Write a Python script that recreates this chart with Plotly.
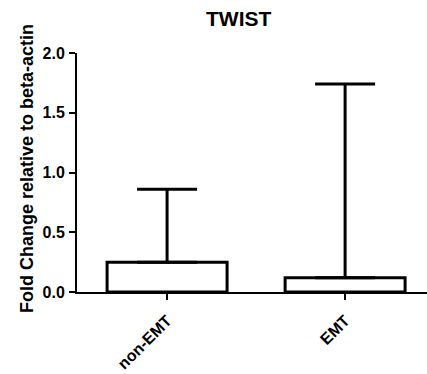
import plotly.graph_objects as go

categories = ["non-EMT", "EMT"]
means = [0.25, 0.12]
upper = [0.86, 1.74]
tick_vals = [0.0, 0.5, 1.0, 1.5, 2.0]
tick_text = ["0.0", "0.5", "1.0", "1.5", "2.0"]

err_plus = [u - m for u, m in zip(upper, means)]

FONT = "Arial, Liberation Sans, sans-serif"

fig = go.Figure()
fig.add_trace(go.Bar(
    x=[0, 1], y=means, width=0.674,
    marker=dict(color="white", line=dict(color="black", width=3)),
    error_y=dict(type="data", symmetric=False, array=err_plus,
                 arrayminus=[0, 0], color="black", thickness=3, width=30),
    showlegend=False,
))

fig.update_layout(
    width=427, height=374,
    margin=dict(l=77, r=0, t=53, b=82),
    paper_bgcolor="white", plot_bgcolor="white",
    font=dict(family=FONT, color="black"),
    xaxis=dict(range=[-0.506, 1.46], tickmode="array", tickvals=[0, 1],
               ticktext=categories, tickangle=-45,
               tickfont=dict(size=16, family=FONT, weight="bold"),
               ticklabelstandoff=5,
               showline=True, linecolor="black", linewidth=2,
               ticks="outside", ticklen=6, tickwidth=2, tickcolor="black",
               showgrid=False, zeroline=False, fixedrange=True),
    yaxis=dict(range=[0, 2.0], tickmode="array", tickvals=tick_vals,
               ticktext=tick_text,
               tickfont=dict(size=16, family=FONT, weight="bold"),
               ticklabelstandoff=1,
               showline=True, linecolor="black", linewidth=2,
               ticks="outside", ticklen=6, tickwidth=2, tickcolor="black",
               showgrid=False, zeroline=False, fixedrange=True),
    annotations=[
        dict(text="<b>TWIST</b>", xref="paper", yref="paper",
             x=(238 - 77) / 350, y=(292 - 19) / 239, xanchor="center",
             yanchor="middle", showarrow=False,
             font=dict(size=21, family=FONT, color="black")),
        dict(text="<b>Fold Change relative to beta-actin</b>", xref="paper",
             yref="paper", x=(27 - 77) / 350, y=(292 - 169) / 239,
             xanchor="center", yanchor="middle", textangle=-90,
             showarrow=False, font=dict(size=18, family=FONT, color="black")),
    ],
)

fig.write_html("out.html")
